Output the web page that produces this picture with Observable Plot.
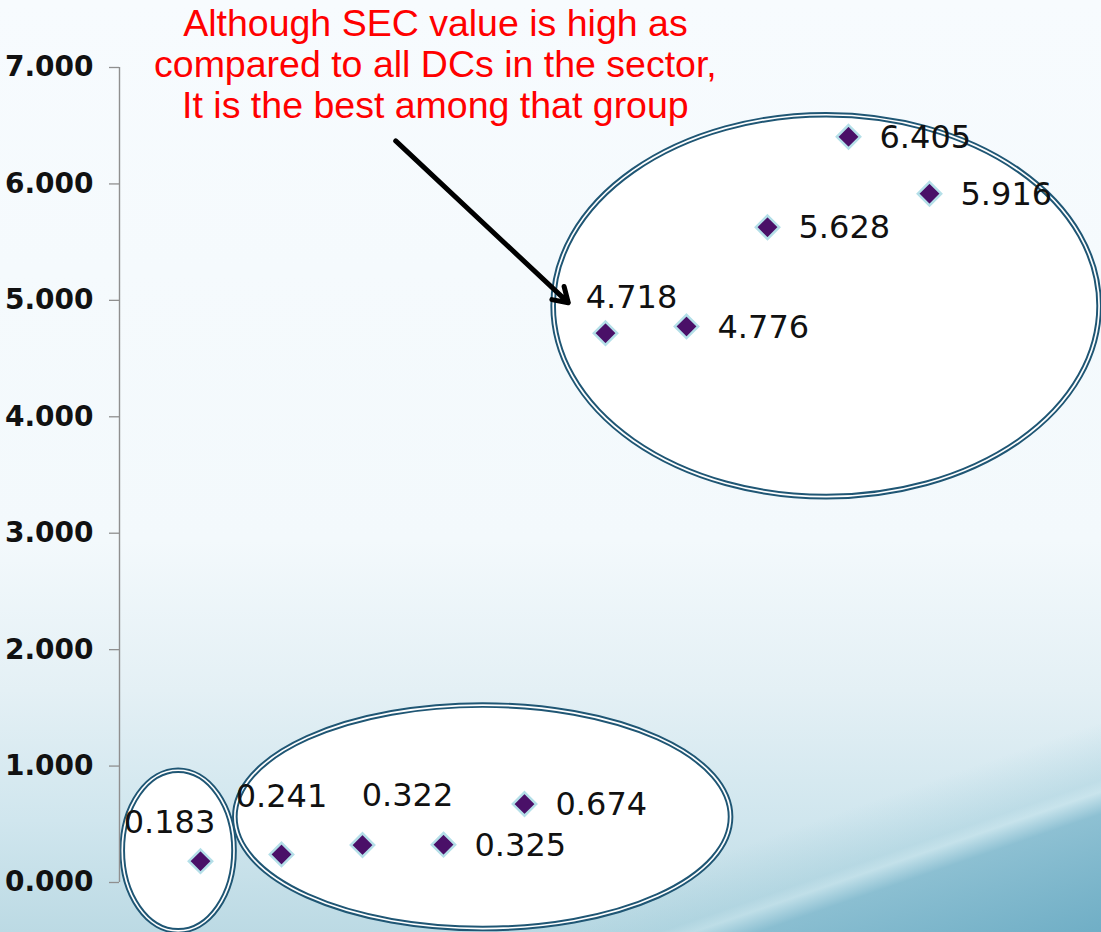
<!DOCTYPE html>
<html>
<head>
<meta charset="utf-8">
<script src="https://cdn.jsdelivr.net/npm/d3@7"></script>
<script src="https://cdn.jsdelivr.net/npm/@observablehq/plot@0.6"></script>
<style>
  html, body { margin: 0; padding: 0; }
  body {
    width: 1101px; height: 932px; overflow: hidden;
    background:
      linear-gradient(161deg, rgba(0,0,0,0) 84%, rgba(150,200,215,0.35) 88.4%, rgba(190,224,233,0.5) 89.3%, rgba(125,183,204,0.8) 91%, rgba(108,172,196,0.95) 100%),
      linear-gradient(180deg, #f7fbfe 0%, #f3f9fc 58%, #e4f0f5 74%, #d0e6ee 88%, #bcdae4 100%);
  }
  #chart { position: absolute; left: 0; top: 0; }
</style>
</head>
<body>
<div id="chart"></div>
<script>
// ---- data ----
const dcIndex = [1, 2, 3, 4, 5, 6, 7, 8, 9, 10];
const secValues = [0.183, 0.241, 0.322, 0.325, 0.674, 4.718, 4.776, 5.628, 6.405, 5.916];
const labelPlacement = ["above-left", "above", "above-right", "right", "right", "upper-right", "right", "right", "right", "right"];
const yTicks = [0, 1, 2, 3, 4, 5, 6, 7];

// group ellipses (data units)
const ellipseCx = [0.73, 4.49, 8.73];
const ellipseCy = [0.27, 0.56, 4.95];
const ellipseRx = [0.69, 3.06, 3.37];
const ellipseRy = [0.69, 0.96, 1.64];

// annotation
const noteText = "Although SEC value is high as\ncompared to all DCs in the sector,\nIt is the best among that group";
const noteX = [3.9];
const noteY = [7.03];
const arrowFrom = [3.41, 6.37];
const arrowTo = [5.54, 4.98];

// ---- build ----
const points = dcIndex.map((x, i) => ({x, y: secValues[i], label: secValues[i].toFixed(3), place: labelPlacement[i]}));
const ellipses = ellipseCx.map((cx, i) => ({cx, cy: ellipseCy[i], rx: ellipseRx[i], ry: ellipseRy[i]}));

const offsets = {
  "right": [31, 1],
  "above-left": [-31, -38],
  "above": [0, -58],
  "above-right": [45, -49],
  "upper-right": [26, -35]
};

const ellipseMark = (index, scales) => {
  const g = d3.create("svg:g");
  for (const e of ellipses) {
    const cx = scales.x(e.cx), cy = scales.y(e.cy);
    const rx = Math.abs(scales.x(e.cx + e.rx) - cx);
    const ry = Math.abs(scales.y(e.cy + e.ry) - cy);
    g.append("ellipse").attr("cx", cx).attr("cy", cy).attr("rx", rx).attr("ry", ry)
      .attr("fill", "white").attr("stroke", "#1f5674").attr("stroke-width", 5.6);
    g.append("ellipse").attr("cx", cx).attr("cy", cy).attr("rx", rx).attr("ry", ry)
      .attr("fill", "none").attr("stroke", "white").attr("stroke-width", 1.7);
  }
  return g.node();
};

const labelMarks = Object.entries(offsets).map(([place, [dx, dy]]) =>
  Plot.text(points.filter(d => d.place === place), {
    x: "x", y: "y", text: "label", dx, dy,
    textAnchor: place === "right" ? "start" : "middle",
    fill: "#111", fontSize: 32, fontFamily: "DejaVu Sans"
  })
);

const plot = Plot.plot({
  width: 1101,
  height: 932,
  marginLeft: 119,
  marginRight: 10,
  marginTop: 67,
  marginBottom: 50,
  style: {background: "transparent", overflow: "visible"},
  x: {type: "linear", domain: [0, 12], axis: null},
  y: {type: "linear", domain: [0, 7], axis: null},
  marks: [
    Plot.dot(points, {x: "x", y: "y", r: 0, stroke: "none"}),
    ellipseMark,
    Plot.ruleX([0], {y1: 0, y2: 7, stroke: "#8f8f8f", strokeWidth: 1.4}),
    Plot.axisY({ticks: yTicks, tickFormat: d3.format(".3f"), tickSize: 10, tickPadding: 16, label: null,
      stroke: "#8f8f8f", fill: "#111", fontSize: 28, fontWeight: "bold", fontFamily: "DejaVu Sans",
      strokeWidth: 1.3}),
    Plot.dot(points, {x: "x", y: "y", symbol: "diamond2", r: 10.5, fill: "#4a1068",
      stroke: "#b4dfe8", strokeWidth: 2.5}),
    ...labelMarks,
    Plot.arrow([0], {x1: () => arrowFrom[0], y1: () => arrowFrom[1], x2: () => arrowTo[0], y2: () => arrowTo[1],
      stroke: "black", strokeWidth: 5, headLength: 5, headAngle: 65}),
    Plot.text([noteText], {x: noteX[0], y: noteY[0], text: d => d, fill: "#ff0000", fontSize: 37.5,
      fontFamily: "Liberation Sans", lineHeight: 41 / 37.5, lineAnchor: "middle", textAnchor: "middle"})
  ]
});
document.getElementById("chart").appendChild(plot);
</script>
</body>
</html>
